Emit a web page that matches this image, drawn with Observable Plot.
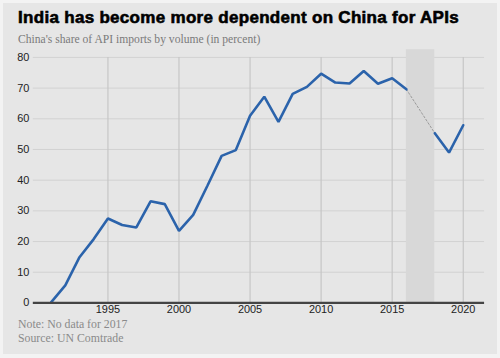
<!DOCTYPE html>
<html>
<head>
<meta charset="utf-8">
<script src="https://cdn.jsdelivr.net/npm/d3@7"></script>
<script src="https://cdn.jsdelivr.net/npm/@observablehq/plot@0.6"></script>
<style>
  html, body { margin: 0; padding: 0; }
  body { width: 500px; height: 358px; background: #f3f3f3; position: relative; overflow: hidden; }
  #card { position: absolute; left: 3px; top: 3px; width: 494px; height: 351px; background: #e6e6e6; }
  .t { position: absolute; white-space: nowrap; margin: 0; }
  #title { left: 15px; top: 5px; font-family: "Liberation Sans", Arial, sans-serif; font-weight: bold; font-size: 17px; color: #000; -webkit-text-stroke: 0.6px #000; letter-spacing: 0.3px; }
  #subtitle { left: 15px; top: 30px; font-family: "Liberation Serif", serif; font-size: 11.6px; color: #7a7a7a; }
  #chart { position: absolute; left: -3px; top: 41px; }
  #note { left: 15px; top: 315px; font-family: "Liberation Serif", serif; font-size: 11.8px; color: #8a8a8a; line-height: 13.5px; }
</style>
</head>
<body>
<div id="card">
  <div class="t" id="title">India has become more dependent on China for APIs</div>
  <div class="t" id="subtitle">China's share of API imports by volume (in percent)</div>
  <div id="chart"></div>
  <div class="t" id="note">Note: No data for 2017<br>Source: UN Comtrade</div>
</div>
<script>
const years = [1991,1992,1993,1994,1995,1996,1997,1998,1999,2000,2001,2002,2003,2004,2005,2006,2007,2008,2009,2010,2011,2012,2013,2014,2015,2016,2017,2018,2019,2020];
const shares = [0.2,5.7,14.9,20.8,27.5,25.4,24.6,33.1,32.2,23.5,28.7,38.2,47.9,49.8,61.0,67.2,59.0,68.1,70.4,74.7,71.8,71.5,75.6,71.4,73.2,69.6,null,55.3,49.0,57.9];
const yTicks = [0,10,20,30,40,50,60,70,80];
const xTicks = [1995,2000,2005,2010,2015,2020];
const gapStart = 2016, gapEnd = 2018;

const data = years.map((y, i) => ({year: y, share: shares[i]}));
const bridge = data.filter(d => d.year === gapStart || d.year === gapEnd);

const chart = Plot.plot({
  width: 500,
  height: 279,
  marginLeft: 33,
  marginRight: 13,
  marginTop: 13,
  marginBottom: 19,
  style: {background: "transparent", fontFamily: "'Liberation Sans', Arial, sans-serif", fontSize: "11px", color: "#222"},
  x: {domain: [1989.75, 2021.5], ticks: xTicks, tickFormat: d => String(d), tickSize: 0, tickPadding: 2, label: null},
  y: {domain: [0, 80], ticks: yTicks, tickSize: 0, tickPadding: 4, label: null},
  marks: [
    Plot.ruleY(yTicks.filter(d => d > 0), {stroke: "#d2d2d2", strokeWidth: 1}),
    Plot.rectY([{a: gapStart, b: gapEnd}], {x1: "a", x2: "b", y1: 0, y2: 82.5, fill: "#d8d8d8"}),
    Plot.ruleX(xTicks, {y1: 0, y2: 80, stroke: "#c6c6c6", strokeWidth: 1.2}),
    Plot.line(bridge, {x: "year", y: "share", stroke: "#9a9a9a", strokeWidth: 1, strokeDasharray: "2,2"}),
    Plot.line(data, {x: "year", y: "share", stroke: "#2b63ab", strokeWidth: 2.6, strokeLinejoin: "miter", defined: d => d.share != null}),
    Plot.ruleY([0], {stroke: "#444", strokeWidth: 2.2}),
    Plot.axisX({ticks: xTicks, tickFormat: d => String(d), tickSize: 0, tickPadding: 2, fill: "#222"}),
    Plot.axisY({ticks: yTicks, tickSize: 0, tickPadding: 4, fill: "#222"})
  ]
});
document.getElementById("chart").appendChild(chart);
</script>
</body>
</html>
